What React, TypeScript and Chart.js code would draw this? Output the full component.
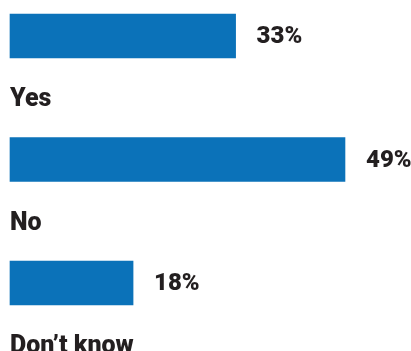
import React, { useEffect, useRef } from "react";
import { Chart, registerables } from "chart.js";

Chart.register(...registerables);

const categories = ["Yes", "No", "Don\u2019t know"];
const values = [33, 49, 18];
const valueLabels = ["33%", "49%", "18%"];

const BAR_COLOR = "#0b72b9";
const TEXT_COLOR = "#231f20";

const labelPlugin = {
  id: "labelPlugin",
  afterDatasetsDraw(chart: any) {
    const ctx = chart.ctx;
    const meta = chart.getDatasetMeta(0);
    ctx.save();
    ctx.fillStyle = TEXT_COLOR;
    meta.data.forEach((bar: any, i: number) => {
      ctx.font = "900 24px Roboto";
      ctx.textAlign = "left";
      ctx.textBaseline = "middle";
      ctx.fillText(valueLabels[i], bar.x + 21, bar.y + 1);
      ctx.font = "900 25px Roboto";
      ctx.textBaseline = "alphabetic";
      ctx.fillText(categories[i], bar.base, bar.y + 70);
    });
    ctx.restore();
  },
};

export default function App() {
  const ref = useRef<HTMLCanvasElement>(null);
  useEffect(() => {
    document.body.style.margin = "0";
    const chart = new Chart(ref.current!, {
      type: "bar",
      data: {
        labels: categories,
        datasets: [
          {
            data: values,
            backgroundColor: BAR_COLOR,
            barThickness: 44,
            clip: false as any,
          },
        ],
      },
      options: {
        indexAxis: "y",
        animation: false,
        responsive: false,
        layout: { padding: { left: 10, right: 25, top: 36, bottom: 68 } },
        plugins: { legend: { display: false }, tooltip: { enabled: false } },
        scales: {
          x: { display: false, min: 0, max: 55 },
          y: { display: false, offset: false },
        },
      },
      plugins: [labelPlugin],
    });
    return () => chart.destroy();
  }, []);
  return <canvas ref={ref} width={411} height={351} style={{ display: "block" }} />;
}
